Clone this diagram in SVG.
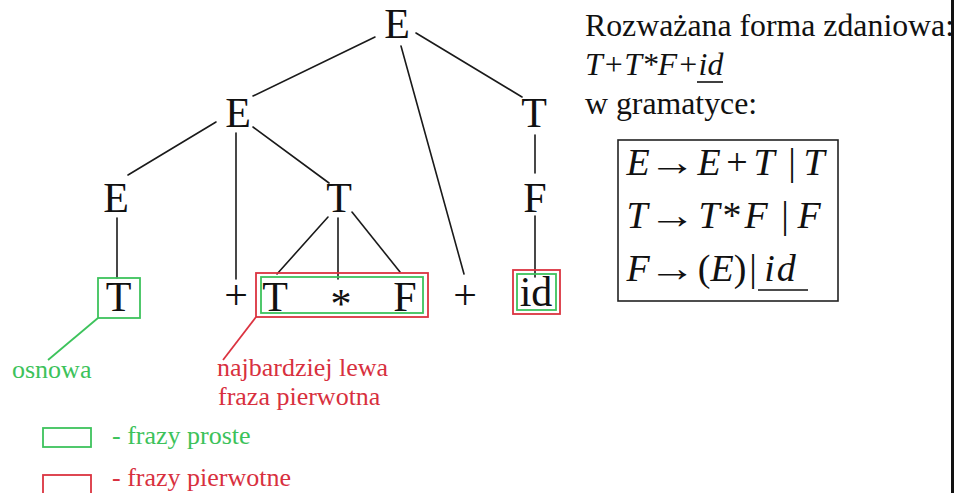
<svg xmlns="http://www.w3.org/2000/svg" width="954" height="493" viewBox="0 0 954 493">
  <style>
    .nt { font-family: "Liberation Serif", "Times New Roman", serif; font-size: 42px; fill: #111; text-anchor: middle; }
    .edge { stroke: #1a1a1a; stroke-width: 1.6; fill: none; stroke-linecap: round; }
    .g-box { fill: none; stroke: #3dc35c; stroke-width: 1.8; }
    .r-box { fill: none; stroke: #db3340; stroke-width: 1.8; }
    .g-line { stroke: #3dc35c; stroke-width: 1.8; fill: none; }
    .r-line { stroke: #db3340; stroke-width: 1.8; fill: none; }
    .lbl { font-family: "Liberation Serif", "Times New Roman", serif; font-size: 26px; }
    .green { fill: #3cc25a; }
    .red { fill: #d8303e; }
    .txt { font-family: "Liberation Serif", "Times New Roman", serif; font-size: 31.8px; fill: #111; }
    .math { font-family: "Liberation Serif", "Times New Roman", serif; font-size: 38px; fill: #111; text-anchor: middle; }
    .arrow { font-family: "Liberation Serif", "DejaVu Serif", serif; font-size: 38px; fill: #111; text-anchor: middle; }
    .it { font-style: italic; }
  </style>

  <rect x="0" y="0" width="954" height="493" fill="#ffffff"/>

  <!-- connectors -->
  <g id="connectors">
    <line class="edge" x1="375" y1="37" x2="253" y2="96"/>
    <line class="edge" x1="416" y1="33" x2="522" y2="97"/>
    <line class="edge" x1="401" y1="46" x2="464" y2="274"/>
    <line class="edge" x1="216" y1="122" x2="128" y2="175"/>
    <line class="edge" x1="236" y1="133" x2="236" y2="279"/>
    <line class="edge" x1="253" y1="127" x2="329" y2="183"/>
    <line class="edge" x1="535" y1="135" x2="535" y2="173"/>
    <line class="edge" x1="535" y1="216" x2="535" y2="277"/>
    <line class="edge" x1="117" y1="218" x2="117" y2="278"/>
    <line class="edge" x1="328" y1="217" x2="277" y2="274"/>
    <line class="edge" x1="338" y1="218" x2="338" y2="279"/>
    <line class="edge" x1="352" y1="212" x2="400" y2="272"/>
    <line class="g-line" x1="98" y1="318" x2="48" y2="360"/>
    <line class="r-line" x1="256" y1="317" x2="223" y2="360"/>
  </g>

  <!-- tree nodes -->
  <g id="node-E-root"><text class="nt" x="397" y="38">E</text></g>
  <g id="node-E-2"><text class="nt" x="238" y="127">E</text></g>
  <g id="node-T-right"><text class="nt" x="534" y="127">T</text></g>
  <g id="node-E-3"><text class="nt" x="116" y="212">E</text></g>
  <g id="node-T-mid"><text class="nt" x="339" y="212">T</text></g>
  <g id="node-F-right"><text class="nt" x="535" y="212">F</text></g>

  <g id="leaf-T-1">
    <rect class="g-box" x="98" y="278" width="42" height="40"/>
    <text class="nt" x="118.5" y="311">T</text>
  </g>
  <g id="leaf-plus-1"><text class="nt" x="236" y="309">+</text></g>
  <g id="phrase-TF">
    <rect class="r-box" x="256" y="273" width="172" height="44"/>
    <rect class="g-box" x="261" y="277" width="162" height="36"/>
  </g>
  <g id="leaf-T-2"><text class="nt" x="275" y="311">T</text></g>
  <g id="leaf-star"><text class="nt" x="341" y="318">*</text></g>
  <g id="leaf-F"><text class="nt" x="405" y="311">F</text></g>
  <g id="leaf-plus-2"><text class="nt" x="465" y="309">+</text></g>
  <g id="leaf-id">
    <rect class="r-box" x="513" y="270" width="47" height="44"/>
    <rect class="g-box" x="517" y="274" width="39" height="36"/>
    <text class="nt" x="536" y="306">id</text>
  </g>

  <!-- annotations -->
  <g id="label-osnowa"><text class="lbl green" x="12" y="378">osnowa</text></g>
  <g id="label-fraza">
    <text class="lbl red" x="217" y="376">najbardziej lewa</text>
    <text class="lbl red" x="218" y="405">fraza pierwotna</text>
  </g>

  <!-- legend -->
  <g id="legend">
    <rect class="g-box" x="43" y="428" width="48" height="19"/>
    <text class="lbl green" x="112" y="444">- frazy proste</text>
    <rect class="r-box" x="43" y="475" width="48" height="26"/>
    <text class="lbl red" x="112" y="486">- frazy pierwotne</text>
  </g>

  <!-- right panel -->
  <g id="info">
    <text class="txt" x="585" y="36">Rozważana forma zdaniowa:</text>
    <text class="txt it" x="585" y="75">T+T*F+id</text>
    <line x1="697" y1="82" x2="723" y2="82" stroke="#111" stroke-width="1.6"/>
    <text class="txt" x="585" y="114">w gramatyce:</text>
  </g>

  <g id="grammar">
    <rect x="618" y="140" width="220" height="161" fill="none" stroke="#222" stroke-width="1.6"/>
    <text class="math" y="175"><tspan class="it" x="638">E</tspan><tspan class="it" x="709">E</tspan><tspan x="737">+</tspan><tspan class="it" x="764">T</tspan><tspan x="792">|</tspan><tspan class="it" x="814">T</tspan></text>
    <text class="arrow" transform="translate(672,175) scale(1.25,1)" x="0" y="0">→</text>
    <text class="math" y="228"><tspan class="it" x="637">T</tspan><tspan class="it" x="709">T</tspan><tspan x="732">*</tspan><tspan class="it" x="756">F</tspan><tspan x="785">|</tspan><tspan class="it" x="809">F</tspan></text>
    <text class="arrow" transform="translate(672,228) scale(1.25,1)" x="0" y="0">→</text>
    <text class="math" y="281"><tspan class="it" x="638">F</tspan><tspan x="704">(</tspan><tspan class="it" x="722">E</tspan><tspan x="740">)</tspan><tspan x="753">|</tspan><tspan class="it" x="781" style="letter-spacing:2px">id</tspan></text>
    <text class="arrow" transform="translate(672,281) scale(1.25,1)" x="0" y="0">→</text>
    <line x1="758" y1="290" x2="808" y2="290" stroke="#111" stroke-width="1.6"/>
  </g>

  <rect id="frame-edge" x="951" y="0" width="3" height="493" fill="#111"/>
</svg>
